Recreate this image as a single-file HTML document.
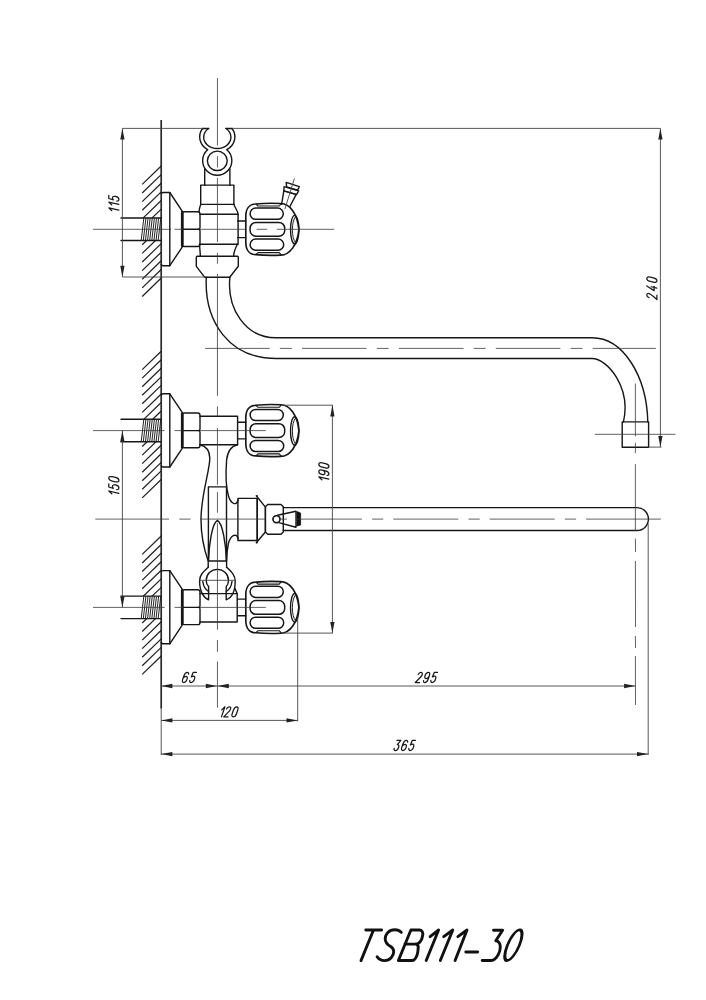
<!DOCTYPE html>
<html><head><meta charset="utf-8"><title>TSB111-30</title>
<style>
html,body{margin:0;padding:0;background:#fff;}
body{width:706px;height:1000px;overflow:hidden;font-family:"Liberation Sans",sans-serif;}
svg{display:block;}
.k{fill:none;stroke:#161616;stroke-width:1.4;stroke-linejoin:round;stroke-linecap:round;}
.w{fill:none;stroke:#2a2a2a;stroke-width:1.7;}
.h{fill:none;stroke:#222;stroke-width:1.25;}
.t{fill:none;stroke:#444;stroke-width:0.9;}
.th{fill:none;stroke:#222;stroke-width:1.0;}
.t2{fill:none;stroke:#222;stroke-width:1.0;}
.c{fill:none;stroke:#3a3a3a;stroke-width:0.8;}
.a{fill:#222;stroke:none;}
text{font-family:"Liberation Sans",sans-serif;font-style:italic;fill:#222;}
.n path{fill:none;stroke:#1a1a1a;stroke-width:1.25;stroke-linecap:round;stroke-linejoin:round;}
.ttl{fill:none;stroke:#111;stroke-width:2.9;stroke-linecap:round;stroke-linejoin:round;}
</style></head>
<body>
<svg width="706" height="1000" viewBox="0 0 706 1000">
<rect x="0" y="0" width="706" height="1000" fill="#ffffff"/>
<line class="w" x1="161.20" y1="120.10" x2="161.20" y2="708.50" />
<line class="t" x1="161.20" y1="708.00" x2="161.20" y2="755.00" />
<clipPath id="h229"><path d="M100,161 H170 V217.90 H100 Z M100,240.50 H170 V316.68 H100 Z"/></clipPath>
<g clip-path="url(#h229)">
<line class="h" x1="161.20" y1="166.00" x2="142.20" y2="184.40" />
<line class="h" x1="161.20" y1="174.62" x2="142.20" y2="193.02" />
<line class="h" x1="161.20" y1="183.24" x2="142.20" y2="201.64" />
<line class="h" x1="161.20" y1="191.86" x2="142.20" y2="210.26" />
<line class="h" x1="161.20" y1="200.48" x2="142.20" y2="218.88" />
<line class="h" x1="161.20" y1="209.10" x2="142.20" y2="227.50" />
<line class="h" x1="161.20" y1="217.72" x2="142.20" y2="236.12" />
<line class="h" x1="161.20" y1="226.34" x2="142.20" y2="244.74" />
<line class="h" x1="161.20" y1="234.96" x2="142.20" y2="253.36" />
<line class="h" x1="161.20" y1="243.58" x2="142.20" y2="261.98" />
<line class="h" x1="161.20" y1="252.20" x2="142.20" y2="270.60" />
<line class="h" x1="161.20" y1="260.82" x2="142.20" y2="279.22" />
<line class="h" x1="161.20" y1="269.44" x2="142.20" y2="287.84" />
<line class="h" x1="161.20" y1="278.06" x2="142.20" y2="296.46" />
</g>
<clipPath id="h430"><path d="M100,346.2 H170 V419.20 H100 Z M100,441.80 H170 V518.0 H100 Z"/></clipPath>
<g clip-path="url(#h430)">
<line class="h" x1="161.20" y1="351.20" x2="142.20" y2="369.60" />
<line class="h" x1="161.20" y1="359.75" x2="142.20" y2="378.15" />
<line class="h" x1="161.20" y1="368.30" x2="142.20" y2="386.70" />
<line class="h" x1="161.20" y1="376.85" x2="142.20" y2="395.25" />
<line class="h" x1="161.20" y1="385.40" x2="142.20" y2="403.80" />
<line class="h" x1="161.20" y1="393.95" x2="142.20" y2="412.35" />
<line class="h" x1="161.20" y1="402.50" x2="142.20" y2="420.90" />
<line class="h" x1="161.20" y1="411.05" x2="142.20" y2="429.45" />
<line class="h" x1="161.20" y1="419.60" x2="142.20" y2="438.00" />
<line class="h" x1="161.20" y1="428.15" x2="142.20" y2="446.55" />
<line class="h" x1="161.20" y1="436.70" x2="142.20" y2="455.10" />
<line class="h" x1="161.20" y1="445.25" x2="142.20" y2="463.65" />
<line class="h" x1="161.20" y1="453.80" x2="142.20" y2="472.20" />
<line class="h" x1="161.20" y1="462.35" x2="142.20" y2="480.75" />
<line class="h" x1="161.20" y1="470.90" x2="142.20" y2="489.30" />
<line class="h" x1="161.20" y1="479.45" x2="142.20" y2="497.85" />
</g>
<clipPath id="h607"><path d="M100,531 H170 V596.00 H100 Z M100,618.60 H170 V694.55 H100 Z"/></clipPath>
<g clip-path="url(#h607)">
<line class="h" x1="161.20" y1="536.00" x2="142.20" y2="554.40" />
<line class="h" x1="161.20" y1="544.57" x2="142.20" y2="562.97" />
<line class="h" x1="161.20" y1="553.14" x2="142.20" y2="571.54" />
<line class="h" x1="161.20" y1="561.71" x2="142.20" y2="580.11" />
<line class="h" x1="161.20" y1="570.28" x2="142.20" y2="588.68" />
<line class="h" x1="161.20" y1="578.85" x2="142.20" y2="597.25" />
<line class="h" x1="161.20" y1="587.42" x2="142.20" y2="605.82" />
<line class="h" x1="161.20" y1="595.99" x2="142.20" y2="614.39" />
<line class="h" x1="161.20" y1="604.56" x2="142.20" y2="622.96" />
<line class="h" x1="161.20" y1="613.13" x2="142.20" y2="631.53" />
<line class="h" x1="161.20" y1="621.70" x2="142.20" y2="640.10" />
<line class="h" x1="161.20" y1="630.27" x2="142.20" y2="648.67" />
<line class="h" x1="161.20" y1="638.84" x2="142.20" y2="657.24" />
<line class="h" x1="161.20" y1="647.41" x2="142.20" y2="665.81" />
<line class="h" x1="161.20" y1="655.98" x2="142.20" y2="674.38" />
</g>
<line class="k" x1="121.00" y1="218.00" x2="161.20" y2="218.00" />
<line class="k" x1="121.00" y1="240.50" x2="161.20" y2="240.50" />
<line class="th" x1="141.20" y1="240.50" x2="143.80" y2="218.00" />
<line class="th" x1="143.32" y1="240.50" x2="145.92" y2="218.00" />
<line class="th" x1="145.44" y1="240.50" x2="148.04" y2="218.00" />
<line class="th" x1="147.56" y1="240.50" x2="150.16" y2="218.00" />
<line class="th" x1="149.68" y1="240.50" x2="152.28" y2="218.00" />
<line class="th" x1="151.80" y1="240.50" x2="154.40" y2="218.00" />
<line class="th" x1="153.92" y1="240.50" x2="156.52" y2="218.00" />
<line class="th" x1="156.04" y1="240.50" x2="158.64" y2="218.00" />
<line class="th" x1="158.16" y1="240.50" x2="160.76" y2="218.00" />
<path class="k" d="M161.2,193.70 Q161.79999999999998,192.50 163.0,192.50 H169.8 L182.7,211.80 V246.30 L169.8,265.70 H163.0 Q161.79999999999998,265.70 161.2,264.50" />
<line class="k" x1="169.80" y1="192.50" x2="169.80" y2="265.70" />
<line class="k" x1="181.60" y1="211.80" x2="181.60" y2="246.30" />
<path class="k" d="M182.8,229.30 V212.70 Q182.8,211.70 183.8,211.70 H197.8 Q200.0,211.70 200.0,213.90 V227.80 Q200.0,229.30 198.5,229.30 H182.8" />
<path class="k" d="M182.8,229.30 V245.50 Q182.8,246.50 183.8,246.50 H197.8 Q200.0,246.50 200.0,244.30 V230.80 Q200.0,229.30 198.5,229.30" />
<line class="k" x1="121.00" y1="419.30" x2="161.20" y2="419.30" />
<line class="k" x1="121.00" y1="441.80" x2="161.20" y2="441.80" />
<line class="th" x1="141.20" y1="441.80" x2="143.80" y2="419.30" />
<line class="th" x1="143.32" y1="441.80" x2="145.92" y2="419.30" />
<line class="th" x1="145.44" y1="441.80" x2="148.04" y2="419.30" />
<line class="th" x1="147.56" y1="441.80" x2="150.16" y2="419.30" />
<line class="th" x1="149.68" y1="441.80" x2="152.28" y2="419.30" />
<line class="th" x1="151.80" y1="441.80" x2="154.40" y2="419.30" />
<line class="th" x1="153.92" y1="441.80" x2="156.52" y2="419.30" />
<line class="th" x1="156.04" y1="441.80" x2="158.64" y2="419.30" />
<line class="th" x1="158.16" y1="441.80" x2="160.76" y2="419.30" />
<path class="k" d="M161.2,395.00 Q161.79999999999998,393.80 163.0,393.80 H169.8 L182.7,413.10 V447.60 L169.8,467.00 H163.0 Q161.79999999999998,467.00 161.2,465.80" />
<line class="k" x1="169.80" y1="393.80" x2="169.80" y2="467.00" />
<line class="k" x1="181.60" y1="413.10" x2="181.60" y2="447.60" />
<path class="k" d="M182.8,430.60 V414.00 Q182.8,413.00 183.8,413.00 H197.8 Q200.0,413.00 200.0,415.20 V429.10 Q200.0,430.60 198.5,430.60 H182.8" />
<path class="k" d="M182.8,430.60 V446.80 Q182.8,447.80 183.8,447.80 H197.8 Q200.0,447.80 200.0,445.60 V432.10 Q200.0,430.60 198.5,430.60" />
<line class="k" x1="121.00" y1="596.10" x2="161.20" y2="596.10" />
<line class="k" x1="121.00" y1="618.60" x2="161.20" y2="618.60" />
<line class="th" x1="141.20" y1="618.60" x2="143.80" y2="596.10" />
<line class="th" x1="143.32" y1="618.60" x2="145.92" y2="596.10" />
<line class="th" x1="145.44" y1="618.60" x2="148.04" y2="596.10" />
<line class="th" x1="147.56" y1="618.60" x2="150.16" y2="596.10" />
<line class="th" x1="149.68" y1="618.60" x2="152.28" y2="596.10" />
<line class="th" x1="151.80" y1="618.60" x2="154.40" y2="596.10" />
<line class="th" x1="153.92" y1="618.60" x2="156.52" y2="596.10" />
<line class="th" x1="156.04" y1="618.60" x2="158.64" y2="596.10" />
<line class="th" x1="158.16" y1="618.60" x2="160.76" y2="596.10" />
<path class="k" d="M161.2,571.80 Q161.79999999999998,570.60 163.0,570.60 H169.8 L182.7,589.90 V624.40 L169.8,643.80 H163.0 Q161.79999999999998,643.80 161.2,642.60" />
<line class="k" x1="169.80" y1="570.60" x2="169.80" y2="643.80" />
<line class="k" x1="181.60" y1="589.90" x2="181.60" y2="624.40" />
<path class="k" d="M182.8,607.40 V590.80 Q182.8,589.80 183.8,589.80 H197.8 Q200.0,589.80 200.0,592.00 V605.90 Q200.0,607.40 198.5,607.40 H182.8" />
<path class="k" d="M182.8,607.40 V623.60 Q182.8,624.60 183.8,624.60 H197.8 Q200.0,624.60 200.0,622.40 V608.90 Q200.0,607.40 198.5,607.40" />
<path class="k" d="M245.8,216.40 C245.8,209.30 249.0,204.00 255.7,204.00 Q268,202.80 280.5,203.50 C290,203.30 297.5,214.30 298.9,229.30 C297.5,244.30 290,255.30 280.5,255.10 Q268,255.80 255.7,254.60 C249.0,254.60 245.8,249.30 245.8,242.20 Z" style="stroke-width:1.65"/>
<path class="k" d="M256.4,204.50 L258,206.00 H279.3 L280.9,204.00" style="stroke-width:1.1"/>
<path class="k" d="M256.4,254.10 L258,252.60 H279.3 L280.9,254.60" style="stroke-width:1.1"/>
<rect class="k" style="stroke-width:1.5" x="250.1" y="208.10" width="33.2" height="11.20" rx="5.60"/>
<rect class="k" style="stroke-width:1.5" x="250.1" y="222.40" width="34.6" height="13.80" rx="5.80"/>
<rect class="k" style="stroke-width:1.5" x="250.1" y="239.10" width="33.6" height="11.10" rx="5.55"/>
<ellipse class="k" cx="294.70" cy="229.70" rx="4.20" ry="14.30"/>
<path class="t2" d="M295.6,216.70 C291.3,221.30 291.3,238.10 295.6,242.70" />
<line class="k" x1="237.60" y1="221.00" x2="245.80" y2="221.00" />
<line class="k" x1="237.60" y1="237.60" x2="245.80" y2="237.60" />
<path class="k" d="M245.8,417.70 C245.8,410.60 249.0,405.30 255.7,405.30 Q268,404.10 280.5,404.80 C290,404.60 297.5,415.60 298.9,430.60 C297.5,445.60 290,456.60 280.5,456.40 Q268,457.10 255.7,455.90 C249.0,455.90 245.8,450.60 245.8,443.50 Z" style="stroke-width:1.65"/>
<path class="k" d="M256.4,405.80 L258,407.30 H279.3 L280.9,405.30" style="stroke-width:1.1"/>
<path class="k" d="M256.4,455.40 L258,453.90 H279.3 L280.9,455.90" style="stroke-width:1.1"/>
<rect class="k" style="stroke-width:1.5" x="250.1" y="409.40" width="33.2" height="11.20" rx="5.60"/>
<rect class="k" style="stroke-width:1.5" x="250.1" y="423.70" width="34.6" height="13.80" rx="5.80"/>
<rect class="k" style="stroke-width:1.5" x="250.1" y="440.40" width="33.6" height="11.10" rx="5.55"/>
<ellipse class="k" cx="294.70" cy="431.00" rx="4.20" ry="14.30"/>
<path class="t2" d="M295.6,418.00 C291.3,422.60 291.3,439.40 295.6,444.00" />
<line class="k" x1="237.60" y1="422.30" x2="245.80" y2="422.30" />
<line class="k" x1="237.60" y1="438.90" x2="245.80" y2="438.90" />
<path class="k" d="M245.8,594.50 C245.8,587.40 249.0,582.10 255.7,582.10 Q268,580.90 280.5,581.60 C290,581.40 297.5,592.40 298.9,607.40 C297.5,622.40 290,633.40 280.5,633.20 Q268,633.90 255.7,632.70 C249.0,632.70 245.8,627.40 245.8,620.30 Z" style="stroke-width:1.65"/>
<path class="k" d="M256.4,582.60 L258,584.10 H279.3 L280.9,582.10" style="stroke-width:1.1"/>
<path class="k" d="M256.4,632.20 L258,630.70 H279.3 L280.9,632.70" style="stroke-width:1.1"/>
<rect class="k" style="stroke-width:1.5" x="250.1" y="586.20" width="33.2" height="11.20" rx="5.60"/>
<rect class="k" style="stroke-width:1.5" x="250.1" y="600.50" width="34.6" height="13.80" rx="5.80"/>
<rect class="k" style="stroke-width:1.5" x="250.1" y="617.20" width="33.6" height="11.10" rx="5.55"/>
<ellipse class="k" cx="294.70" cy="607.80" rx="4.20" ry="14.30"/>
<path class="t2" d="M295.6,594.80 C291.3,599.40 291.3,616.20 295.6,620.80" />
<line class="k" x1="237.60" y1="599.10" x2="245.80" y2="599.10" />
<line class="k" x1="237.60" y1="615.70" x2="245.80" y2="615.70" />
<path class="k" d="M202.6,128.5 A17.3,15.2 0 0 0 207.6,149.7" />
<path class="k" d="M232,128.5 A17.3,15.2 0 0 1 226.9,149.7" />
<path class="k" d="M208.6,128.5 A13.6,11.3 0 1 0 226,128.5" />
<path class="k" d="M202.6,128.5 L208.6,128.5 M226,128.5 L232,128.5" />
<path class="k" d="M207.6,149.7 A14.6,14.6 0 1 0 226.9,149.7" />
<ellipse class="k" cx="217.30" cy="160.80" rx="9.90" ry="9.70"/>
<line class="k" x1="204.70" y1="169.00" x2="204.70" y2="185.20" />
<line class="k" x1="229.90" y1="169.00" x2="229.90" y2="185.20" />
<path class="k" d="M200.7,204.4 V185.1 H233.9 V204.4" />
<line class="k" x1="200.70" y1="204.40" x2="233.90" y2="204.40" />
<path class="k" d="M200.7,204.4 C199.6,207 199.2,209.5 199,212" />
<path class="k" d="M233.9,204.4 C235,208 238,211 238.1,214.2 V244.3" />
<line class="k" x1="199.90" y1="214.20" x2="238.10" y2="214.20" />
<line class="k" x1="199.90" y1="244.30" x2="237.60" y2="244.30" />
<line class="k" x1="199.50" y1="244.30" x2="200.40" y2="256.20" />
<path class="k" d="M237.4,244.3 C235,249 233.8,252 233.6,256.2" />
<path class="k" d="M197.3,256.3 H237.3 Q238.3,256.3 238.3,257.3 V266.3 L229.7,277.2 H204.6 L196.3,266.3 V257.3 Q196.3,256.3 197.3,256.3 Z" />
<path class="k" d="M281.6,204.3 L283.8,190.9 L296.2,194.4 L289.8,206.8" />
<path class="k" d="M284.1,186.6 L298.6,190.9 L296.5,194.6 L283.8,190.9 Z" />
<path class="k" d="M286.2,182.4 L299.3,186.6 L297.6,190.2 L286.6,186.9 Z" />
<line class="t" x1="284.80" y1="209.30" x2="294.40" y2="178.50" />
<path class="k" d="M206.3,277.2 C204.1,321.8 229.2,358.5 276,358.5 H591.9 C607.5,358.4 631.4,387.8 623.4,421.9" />
<path class="k" d="M229.9,277.2 C226.7,308.2 245.1,337.8 276,337.8 H591.9 C623.4,337.7 646.8,376.4 647.8,421.9" />
<rect class="k" x="622.20" y="421.90" width="26.40" height="25.40" rx="0"/>
<path class="k" d="M199.9,416.20 H237.6 V444.70 H199.9" />
<path class="k" d="M199.9,593.60 H237.2 V622.00 H199.9" />
<line class="k" x1="235.00" y1="588.60" x2="237.20" y2="593.60" />
<path class="k" d="M199.9,444.7 C206,446 209.5,450 209.8,458 C210,470 201,495 201,519.2 C201,540 205,552 208.2,561 V567.3" />
<path class="k" d="M237.6,444.7 C231,446 227.5,452 226.6,460 C225.5,475 226,488 228.5,496 C230.5,503 236,507 238.2,500" />
<path class="k" d="M238.2,538.5 C236,532 230.5,536 228.5,543 C227,550 226.6,556 226.6,561 V567.3" />
<path class="k" d="M208.4,561 V486.9 H226.5 V561 Z" />
<path class="k" d="M208.5,561 C209,545 212,523 217.4,520.5 C222.8,523 225.9,545 226.4,561" />
<path class="k" d="M208.2,567.3 C203,572 199.6,575 199.6,581 C199.6,592 204,598 208.6,599.8 V586.6 C207,585 206.2,583 206.2,580.5 A11.1,11.1 0 0 1 228.5,580.5 C228.5,583 227.6,585 226.2,586.6 V599.8 C231,598 235.2,592 235.2,581 C235.2,575 231.6,572 226.6,567.3" />
<path class="k" d="M202.8,581.5 C203.5,587 206,590 208.6,591.5" />
<path class="k" d="M232,581.5 C231.3,587 229,590 226.2,591.5" />
<line class="t" x1="199.80" y1="580.30" x2="235.10" y2="580.30" />
<rect class="k" x="237.90" y="498.40" width="19.30" height="42.10" rx="0"/>
<path class="k" d="M257.2,495.8 V542.8 M256.3,495.8 L265.4,507.1 V532 L256.3,542.8" />
<path class="k" d="M267.7,504.5 H281 L283.3,506.8 V532 L281,534.3 H267.7 L265.4,532 V506.8 Z" />
<path class="k" d="M283.3,507.6 H637 A11.45,11.45 0 0 1 637,530.5 H283.3" />
<circle cx="276.5" cy="519.2" r="3.4" fill="#fff" stroke="#1c1c1c" stroke-width="1.5"/>
<path class="k" d="M277.5,515.3 L296,511.3 V527.2 L278.8,522.6" />
<path d="M296.9,511.6 L300.6,513 V525 L296.9,526 Z" fill="#111" stroke="#111" stroke-width="0.8"/>
<line class="c" x1="217.45" y1="78.10" x2="217.45" y2="145.50" />
<line class="c" x1="217.45" y1="156.10" x2="217.45" y2="167.50" />
<line class="c" x1="217.45" y1="178.00" x2="217.45" y2="242.10" />
<line class="c" x1="217.45" y1="252.90" x2="217.45" y2="263.80" />
<line class="c" x1="217.45" y1="274.00" x2="217.45" y2="395.90" />
<line class="c" x1="217.45" y1="406.40" x2="217.45" y2="416.00" />
<line class="c" x1="217.45" y1="428.00" x2="217.45" y2="484.80" />
<line class="c" x1="217.45" y1="492.00" x2="217.45" y2="512.80" />
<line class="c" x1="217.45" y1="523.20" x2="217.45" y2="629.70" />
<line class="c" x1="217.45" y1="640.00" x2="217.45" y2="651.80" />
<line class="c" x1="217.45" y1="661.50" x2="217.45" y2="707.70" />
<line class="c" x1="93.00" y1="229.30" x2="171.00" y2="229.30" />
<line class="c" x1="200.00" y1="229.30" x2="246.00" y2="229.30" />
<line class="c" x1="256.60" y1="229.30" x2="267.20" y2="229.30" />
<line class="c" x1="276.80" y1="229.30" x2="334.20" y2="229.30" />
<line class="c" x1="93.00" y1="430.60" x2="164.60" y2="430.60" />
<line class="c" x1="200.00" y1="430.60" x2="265.80" y2="430.60" />
<line class="c" x1="93.00" y1="607.40" x2="164.60" y2="607.40" />
<line class="c" x1="200.00" y1="607.40" x2="265.80" y2="607.40" />
<line class="c" x1="174.50" y1="229.30" x2="182.80" y2="229.30" />
<line class="c" x1="174.50" y1="430.60" x2="182.80" y2="430.60" />
<line class="c" x1="174.50" y1="607.40" x2="182.80" y2="607.40" />
<line class="c" x1="205.10" y1="348.40" x2="269.70" y2="348.40" />
<line class="c" x1="279.90" y1="348.40" x2="291.80" y2="348.40" />
<line class="c" x1="302.00" y1="348.40" x2="366.60" y2="348.40" />
<line class="c" x1="376.80" y1="348.40" x2="388.70" y2="348.40" />
<line class="c" x1="398.90" y1="348.40" x2="463.50" y2="348.40" />
<line class="c" x1="473.70" y1="348.40" x2="485.60" y2="348.40" />
<line class="c" x1="495.80" y1="348.40" x2="560.40" y2="348.40" />
<line class="c" x1="570.60" y1="348.40" x2="582.50" y2="348.40" />
<line class="c" x1="592.70" y1="348.40" x2="655.90" y2="348.40" />
<line class="c" x1="95.30" y1="519.10" x2="169.00" y2="519.10" />
<line class="c" x1="179.30" y1="519.10" x2="190.50" y2="519.10" />
<line class="c" x1="200.50" y1="519.10" x2="265.50" y2="519.10" />
<line class="c" x1="281.00" y1="519.10" x2="286.90" y2="519.10" />
<line class="c" x1="296.90" y1="519.10" x2="361.90" y2="519.10" />
<line class="c" x1="372.10" y1="519.10" x2="383.30" y2="519.10" />
<line class="c" x1="393.30" y1="519.10" x2="458.30" y2="519.10" />
<line class="c" x1="468.50" y1="519.10" x2="479.70" y2="519.10" />
<line class="c" x1="489.70" y1="519.10" x2="554.70" y2="519.10" />
<line class="c" x1="564.90" y1="519.10" x2="576.10" y2="519.10" />
<line class="c" x1="586.10" y1="519.10" x2="660.90" y2="519.10" />
<line class="c" x1="594.80" y1="434.30" x2="675.40" y2="434.30" />
<line class="c" x1="635.40" y1="383.50" x2="635.40" y2="436.30" />
<line class="c" x1="635.40" y1="442.80" x2="635.40" y2="453.20" />
<line class="c" x1="635.40" y1="464.10" x2="635.40" y2="531.00" />
<line class="c" x1="635.40" y1="538.50" x2="635.50" y2="552.00" />
<line class="c" x1="635.40" y1="561.00" x2="635.50" y2="627.00" />
<line class="c" x1="635.40" y1="636.00" x2="635.50" y2="648.00" />
<line class="c" x1="635.40" y1="656.00" x2="635.50" y2="705.00" />
<circle cx="276.5" cy="519.2" r="3.4" fill="#fff" stroke="#1c1c1c" stroke-width="1.5"/>
<line class="t" x1="122.40" y1="128.40" x2="202.60" y2="128.40" />
<line class="t" x1="232.00" y1="128.40" x2="660.40" y2="128.40" />
<line class="t" x1="122.40" y1="128.40" x2="122.40" y2="277.00" />
<polygon class="a" points="122.40,128.40 120.25,139.60 124.55,139.60"/>
<polygon class="a" points="122.40,277.00 120.25,265.80 124.55,265.80"/>
<line class="t" x1="122.40" y1="277.00" x2="204.70" y2="277.00" />
<g class="n" transform="rotate(-90 118.90 203.60)">
<path d="M0,-7 L2.7,-10 V0" transform="translate(110.19,203.60) skewX(-13) scale(0.788,1.010)" vector-effect="non-scaling-stroke"/>
<path d="M0,-7 L2.7,-10 V0" transform="translate(115.92,203.60) skewX(-13) scale(0.788,1.010)" vector-effect="non-scaling-stroke"/>
<path d="M5,-10 H0.9 L0.5,-5.5 C1.2,-6.1 2,-6.4 2.9,-6.4 C4.5,-6.4 5.5,-5.2 5.5,-3.3 C5.5,-1.2 4.4,0 2.7,0 C1.3,0 0.3,-0.8 0,-2.2" transform="translate(120.94,203.60) skewX(-13) scale(0.788,1.010)" vector-effect="non-scaling-stroke"/>
</g>
<line class="t" x1="660.40" y1="128.40" x2="660.40" y2="447.10" />
<polygon class="a" points="660.40,128.40 658.25,139.60 662.55,139.60"/>
<polygon class="a" points="660.40,447.10 658.25,435.90 662.55,435.90"/>
<line class="t" x1="648.20" y1="447.10" x2="661.50" y2="447.10" />
<g class="n" transform="rotate(-90 656.90 287.90)">
<path d="M0.2,-7.8 C0.3,-9.3 1.3,-10 2.75,-10 C4.3,-10 5.3,-9.2 5.3,-7.7 C5.3,-6.3 4.5,-5.3 3.2,-4 L0,0 H5.5" transform="translate(645.28,287.90) skewX(-13) scale(0.788,1.010)" vector-effect="non-scaling-stroke"/>
<path d="M3.8,-10 L0,-2.8 H5.5 M4.1,-5.6 V0" transform="translate(653.52,287.90) skewX(-13) scale(0.788,1.010)" vector-effect="non-scaling-stroke"/>
<path d="M2.75,-10 C0.9,-10 0,-8.6 0,-6.6 V-3.4 C0,-1.4 0.9,0 2.75,0 C4.6,0 5.5,-1.4 5.5,-3.4 V-6.6 C5.5,-8.6 4.6,-10 2.75,-10 Z" transform="translate(661.85,287.90) skewX(-13) scale(0.788,1.010)" vector-effect="non-scaling-stroke"/>
</g>
<line class="t" x1="122.40" y1="430.60" x2="122.40" y2="607.40" />
<polygon class="a" points="122.40,430.60 120.25,441.80 124.55,441.80"/>
<polygon class="a" points="122.40,607.40 120.25,596.20 124.55,596.20"/>
<g class="n" transform="rotate(-90 118.90 485.70)">
<path d="M0,-7 L2.7,-10 V0" transform="translate(109.14,485.70) skewX(-13) scale(0.788,1.010)" vector-effect="non-scaling-stroke"/>
<path d="M5,-10 H0.9 L0.5,-5.5 C1.2,-6.1 2,-6.4 2.9,-6.4 C4.5,-6.4 5.5,-5.2 5.5,-3.3 C5.5,-1.2 4.4,0 2.7,0 C1.3,0 0.3,-0.8 0,-2.2" transform="translate(114.56,485.70) skewX(-13) scale(0.788,1.010)" vector-effect="non-scaling-stroke"/>
<path d="M2.75,-10 C0.9,-10 0,-8.6 0,-6.6 V-3.4 C0,-1.4 0.9,0 2.75,0 C4.6,0 5.5,-1.4 5.5,-3.4 V-6.6 C5.5,-8.6 4.6,-10 2.75,-10 Z" transform="translate(122.00,485.70) skewX(-13) scale(0.788,1.010)" vector-effect="non-scaling-stroke"/>
</g>
<line class="t" x1="282.80" y1="405.20" x2="333.00" y2="405.20" />
<line class="t" x1="282.80" y1="633.10" x2="333.00" y2="633.10" />
<line class="t" x1="332.40" y1="405.20" x2="332.40" y2="633.10" />
<polygon class="a" points="332.40,405.20 330.25,416.40 334.55,416.40"/>
<polygon class="a" points="332.40,633.10 330.25,621.90 334.55,621.90"/>
<g class="n" transform="rotate(-90 328.90 471.70)">
<path d="M0,-7 L2.7,-10 V0" transform="translate(319.24,471.70) skewX(-13) scale(0.788,1.010)" vector-effect="non-scaling-stroke"/>
<path d="M0.3,-1.8 C0.6,-0.6 1.5,0 2.65,0 C4.5,0 5.5,-1.4 5.5,-3.5 V-6.7 C5.5,-8.8 4.5,-10 2.75,-10 C1,-10 0,-8.8 0,-6.9 C0,-5 1,-3.9 2.65,-3.9 C4,-3.9 5,-4.7 5.5,-6" transform="translate(324.56,471.70) skewX(-13) scale(0.788,1.010)" vector-effect="non-scaling-stroke"/>
<path d="M2.75,-10 C0.9,-10 0,-8.6 0,-6.6 V-3.4 C0,-1.4 0.9,0 2.75,0 C4.6,0 5.5,-1.4 5.5,-3.4 V-6.6 C5.5,-8.6 4.6,-10 2.75,-10 Z" transform="translate(331.90,471.70) skewX(-13) scale(0.788,1.010)" vector-effect="non-scaling-stroke"/>
</g>
<line class="t" x1="161.20" y1="686.00" x2="635.50" y2="686.00" />
<polygon class="a" points="161.20,686.00 172.40,683.85 172.40,688.15"/>
<polygon class="a" points="217.00,686.00 205.80,683.85 205.80,688.15"/>
<polygon class="a" points="217.60,686.00 228.80,683.85 228.80,688.15"/>
<polygon class="a" points="635.30,686.00 624.10,683.85 624.10,688.15"/>
<g class="n">
<path d="M5.2,-8.2 C4.9,-9.4 4,-10 2.85,-10 C1,-10 0,-8.6 0,-6.5 V-3.3 C0,-1.2 1,0 2.75,0 C4.5,0 5.5,-1.2 5.5,-3.1 C5.5,-5 4.5,-6.1 2.85,-6.1 C1.5,-6.1 0.5,-5.3 0,-4" transform="translate(181.60,682.50) skewX(-19) scale(0.788,1.010)" vector-effect="non-scaling-stroke"/>
<path d="M5,-10 H0.9 L0.5,-5.5 C1.2,-6.1 2,-6.4 2.9,-6.4 C4.5,-6.4 5.5,-5.2 5.5,-3.3 C5.5,-1.2 4.4,0 2.7,0 C1.3,0 0.3,-0.8 0,-2.2" transform="translate(188.99,682.50) skewX(-19) scale(0.788,1.010)" vector-effect="non-scaling-stroke"/>
</g>
<g class="n">
<path d="M0.2,-7.8 C0.3,-9.3 1.3,-10 2.75,-10 C4.3,-10 5.3,-9.2 5.3,-7.7 C5.3,-6.3 4.5,-5.3 3.2,-4 L0,0 H5.5" transform="translate(415.31,682.50) skewX(-19) scale(0.788,1.010)" vector-effect="non-scaling-stroke"/>
<path d="M0.3,-1.8 C0.6,-0.6 1.5,0 2.65,0 C4.5,0 5.5,-1.4 5.5,-3.5 V-6.7 C5.5,-8.8 4.5,-10 2.75,-10 C1,-10 0,-8.8 0,-6.9 C0,-5 1,-3.9 2.65,-3.9 C4,-3.9 5,-4.7 5.5,-6" transform="translate(422.69,682.50) skewX(-19) scale(0.788,1.010)" vector-effect="non-scaling-stroke"/>
<path d="M5,-10 H0.9 L0.5,-5.5 C1.2,-6.1 2,-6.4 2.9,-6.4 C4.5,-6.4 5.5,-5.2 5.5,-3.3 C5.5,-1.2 4.4,0 2.7,0 C1.3,0 0.3,-0.8 0,-2.2" transform="translate(430.08,682.50) skewX(-19) scale(0.788,1.010)" vector-effect="non-scaling-stroke"/>
</g>
<line class="t" x1="297.70" y1="616.50" x2="297.70" y2="721.50" />
<line class="t" x1="161.20" y1="720.40" x2="297.70" y2="720.40" />
<polygon class="a" points="161.20,720.40 172.40,718.25 172.40,722.55"/>
<polygon class="a" points="297.70,720.40 286.50,718.25 286.50,722.55"/>
<g class="n">
<path d="M0,-7 L2.7,-10 V0" transform="translate(219.31,716.90) skewX(-19) scale(0.788,1.010)" vector-effect="non-scaling-stroke"/>
<path d="M0.2,-7.8 C0.3,-9.3 1.3,-10 2.75,-10 C4.3,-10 5.3,-9.2 5.3,-7.7 C5.3,-6.3 4.5,-5.3 3.2,-4 L0,0 H5.5" transform="translate(223.69,716.90) skewX(-19) scale(0.788,1.010)" vector-effect="non-scaling-stroke"/>
<path d="M2.75,-10 C0.9,-10 0,-8.6 0,-6.6 V-3.4 C0,-1.4 0.9,0 2.75,0 C4.6,0 5.5,-1.4 5.5,-3.4 V-6.6 C5.5,-8.6 4.6,-10 2.75,-10 Z" transform="translate(231.07,716.90) skewX(-19) scale(0.788,1.010)" vector-effect="non-scaling-stroke"/>
</g>
<line class="t" x1="648.20" y1="523.60" x2="648.20" y2="755.00" />
<line class="t" x1="161.20" y1="754.10" x2="648.20" y2="754.10" />
<polygon class="a" points="161.20,754.10 172.40,751.95 172.40,756.25"/>
<polygon class="a" points="648.20,754.10 637.00,751.95 637.00,756.25"/>
<g class="n">
<path d="M0.3,-10 H5.2 L2.5,-5.9 C4.3,-5.9 5.4,-4.7 5.4,-3 C5.4,-1.1 4.3,0 2.7,0 C1.2,0 0.2,-0.8 0,-2.2" transform="translate(393.31,750.50) skewX(-19) scale(0.788,1.010)" vector-effect="non-scaling-stroke"/>
<path d="M5.2,-8.2 C4.9,-9.4 4,-10 2.85,-10 C1,-10 0,-8.6 0,-6.5 V-3.3 C0,-1.2 1,0 2.75,0 C4.5,0 5.5,-1.2 5.5,-3.1 C5.5,-5 4.5,-6.1 2.85,-6.1 C1.5,-6.1 0.5,-5.3 0,-4" transform="translate(400.69,750.50) skewX(-19) scale(0.788,1.010)" vector-effect="non-scaling-stroke"/>
<path d="M5,-10 H0.9 L0.5,-5.5 C1.2,-6.1 2,-6.4 2.9,-6.4 C4.5,-6.4 5.5,-5.2 5.5,-3.3 C5.5,-1.2 4.4,0 2.7,0 C1.3,0 0.3,-0.8 0,-2.2" transform="translate(408.08,750.50) skewX(-19) scale(0.788,1.010)" vector-effect="non-scaling-stroke"/>
</g>
<g class="ttl">
<path d="M365.8,930 H381.6 M373.5,930 L361,960.6"/>
<path d="M401.3,932.4 C399.5,930.4 397.5,929.7 394.9,929.7 C389,929.7 385.2,934 385.2,939 C385.2,943 388,945 390.7,946.6 C393,948 393.7,950 393.7,951.7 C393.7,956 390,960.6 384.7,960.6 C381,960.6 378.5,959 377.1,956.8"/>
<path d="M398.4,960.5 L410.9,930 H419.4 C422,930 423,932.5 422.8,934.5 C422.4,938 421.5,940 420.5,941.3 C419.5,942.8 418,944.1 416,944.1 H404.9 M416,944.1 C417.8,944.6 418.5,946 418.2,948.1 C418,951 417.8,953 417.1,954.9 C416,958 414.5,960.5 412,960.5 H398.4"/>
<path d="M430.1,936.7 L438.6,930 L426.2,960.5"/>
<path d="M443.7,936.7 L452.8,930 L440.3,960.5"/>
<path d="M457.9,936.7 L467,930 L455.1,960.5"/>
<path d="M465.8,952 H477.7"/>
<path d="M493.5,930.2 H502.6 L495.8,940.7 C498,940.7 500.3,943 500.3,946.9 C500.3,950 499.5,952.5 498.1,954.9 C496.5,958 494.5,960.5 491,960.5 H482.2"/>
<ellipse cx="0" cy="0" rx="6" ry="15.3" transform="translate(513.4,945.2) skewX(-22)"/>
</g>
</svg>
</body></html>
